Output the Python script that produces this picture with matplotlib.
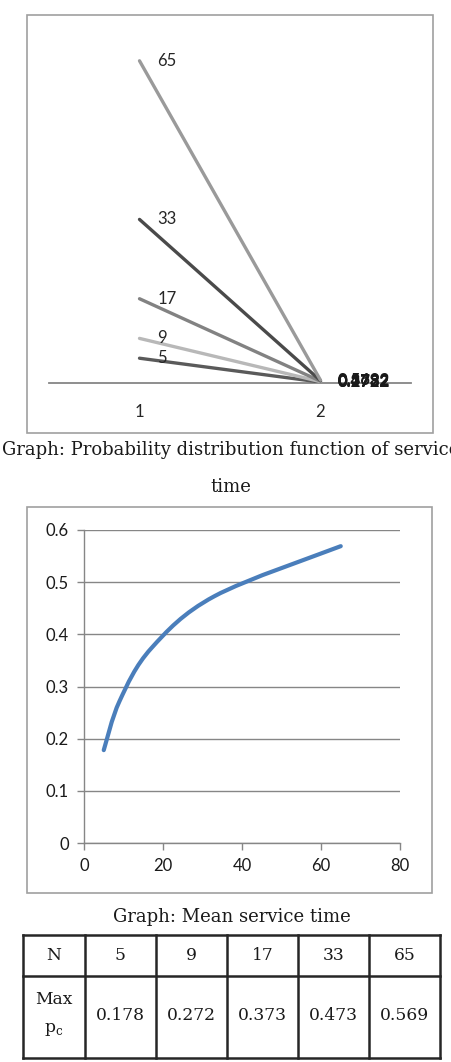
import matplotlib
matplotlib.use("Agg")
import matplotlib.pyplot as plt
from matplotlib.patches import Rectangle, PathPatch
from matplotlib.path import Path
import numpy as np

# ---------------- data ----------------
pdf_categories = ["1", "2"]
series_n = [5, 9, 17, 33, 65]
pdf_start = [5, 9, 17, 33, 65]
pdf_end = [0.1782, 0.2722, 0.3732, 0.4732, 0.5692]
pdf_colors = ["#5a5a5a", "#b8b8b8", "#828282", "#4a4a4a", "#9a9a9a"]

mean_x = [5, 9, 17, 33, 65]
mean_y = [0.178, 0.272, 0.373, 0.473, 0.569]
y_ticks = [0, 0.1, 0.2, 0.3, 0.4, 0.5, 0.6]
x_ticks = [0, 20, 40, 60, 80]

table_header = ["N", "5", "9", "17", "33", "65"]
table_values = ["0.178", "0.272", "0.373", "0.473", "0.569"]

caption1 = "Graph: Probability distribution function of service"
caption1b = "time"
caption2 = "Graph: Mean service time"

# ---------------- figure ----------------
W, H = 451, 1062
fig = plt.figure(figsize=(W / 100, H / 100), dpi=100)

def fx(x):
    return x / W

def fy(y):
    return 1 - y / H

def axes_px(x0, y0, x1, y1):
    return fig.add_axes([fx(x0), fy(y1), fx(x1) - fx(x0), fy(y0) - fy(y1)])

SANS = ["Lato", "DejaVu Sans"]
SERIF = ["DejaVu Serif"]
GRID = "#868686"
SANS_SIZE = 12
CAP_SIZE = 13.0

# chart frames
for (x0, y0, x1, y1) in [(27, 15, 433, 433), (27, 507, 432, 893)]:
    fig.patches.append(Rectangle((fx(x0), fy(y1)), fx(x1) - fx(x0), fy(y0) - fy(y1),
                                 transform=fig.transFigure, fill=False,
                                 edgecolor="#a0a0a0", linewidth=1.2))

# ---------------- top chart ----------------
ax1 = axes_px(49, 36, 411, 383)
ax1.set_xlim(0.5, 2.5)
ax1.set_ylim(0, 70)
xs = [1, 2]
ax1.axhline(0, color=GRID, linewidth=1.3, zorder=1, clip_on=False)
for n, s, e, c in zip(series_n, pdf_start, pdf_end, pdf_colors):
    ax1.plot(xs, [s, e], color=c, linewidth=2.4, solid_capstyle="round", zorder=3)
for n, s, e in zip(series_n, pdf_start, pdf_end):
    ax1.annotate(str(s), (1, s), xytext=(13, 0), textcoords="offset points",
                 ha="left", va="center", fontsize=SANS_SIZE, family=SANS, color="#262626", zorder=4)
    ax1.annotate(f"{e:g}", (2, e), xytext=(12, 0), textcoords="offset points",
                 ha="left", va="center", fontsize=SANS_SIZE, family=SANS, color="#1a1a1a",
                 fontweight="bold", zorder=4)
for sp in ax1.spines.values():
    sp.set_visible(False)
ax1.set_yticks([])
ax1.set_xticks(xs)
ax1.set_xticklabels(pdf_categories, family=SANS, fontsize=SANS_SIZE, color="#262626")
ax1.tick_params(axis="x", length=0, pad=15)
ax1.patch.set_alpha(0)

fig.text(fx(2), fy(450), caption1, ha="left", va="center", family=SERIF,
         fontsize=CAP_SIZE, color="#1a1a1a")
fig.text(fx(231), fy(487), caption1b, ha="center", va="center", family=SERIF,
         fontsize=CAP_SIZE, color="#1a1a1a")

# ---------------- second chart ----------------
ax2 = axes_px(84, 530, 400, 843)
ax2.set_xlim(0, 80)
ax2.set_ylim(0, 0.6)
ax2.set_yticks(y_ticks)
ax2.set_yticklabels([f"{v:g}" for v in y_ticks], family=SANS, fontsize=SANS_SIZE, color="#1a1a1a")
ax2.set_xticks(x_ticks)
ax2.set_xticklabels([str(v) for v in x_ticks], family=SANS, fontsize=SANS_SIZE, color="#1a1a1a")
ax2.grid(axis="y", color=GRID, linewidth=1.0)
ax2.set_axisbelow(True)
for side in ["top", "right"]:
    ax2.spines[side].set_visible(False)
for side in ["left", "bottom"]:
    ax2.spines[side].set_color(GRID)
    ax2.spines[side].set_linewidth(1.0)
ax2.tick_params(axis="both", direction="out", length=5, width=1, color=GRID, pad=6)

# smoothed (Excel-like) line through the data points
px = np.array(mean_x, dtype=float)
py = np.array(mean_y, dtype=float)
P = np.column_stack([px, py])
verts = [tuple(P[0])]
codes = [Path.MOVETO]
for i in range(len(P) - 1):
    p0 = P[i - 1] if i > 0 else P[i]
    p1 = P[i]
    p2 = P[i + 1]
    p3 = P[i + 2] if i + 2 < len(P) else P[i + 1]
    c1 = p1 + (p2 - p0) / 6.0
    c2 = p2 - (p3 - p1) / 6.0
    verts += [tuple(c1), tuple(c2), tuple(p2)]
    codes += [Path.CURVE4] * 3
ax2.add_patch(PathPatch(Path(verts, codes), facecolor="none", edgecolor="#4a7ebb",
                        linewidth=3.0, capstyle="round", joinstyle="round", zorder=3))

fig.text(fx(232), fy(917), caption2, ha="center", va="center", family=SERIF,
         fontsize=CAP_SIZE, color="#1a1a1a")

# ---------------- table ----------------
col_x = [23, 85, 156, 227, 298, 369, 440]
row_y = [935, 976, 1058]
tab = fig.add_axes([0, 0, 1, 1])
tab.set_xlim(0, W)
tab.set_ylim(H, 0)
tab.axis("off")
tab.patch.set_alpha(0)
for x in col_x:
    tab.plot([x, x], [row_y[0], row_y[-1]], color="#262626", linewidth=1.8,
             solid_capstyle="projecting")
for y in row_y:
    tab.plot([col_x[0], col_x[-1]], [y, y], color="#262626", linewidth=1.8,
             solid_capstyle="projecting")
for i, lab in enumerate(table_header):
    tab.text((col_x[i] + col_x[i + 1]) / 2, 955, lab, ha="center", va="center",
             family=SERIF, fontsize=12.3, color="#1a1a1a")
tab.text((col_x[0] + col_x[1]) / 2, 999, "Max", ha="center", va="center",
         family=SERIF, fontsize=12.3, color="#1a1a1a")
tab.text((col_x[0] + col_x[1]) / 2, 1030, r"p$_\mathregular{c}$", ha="center", va="center",
         family=SERIF, fontsize=12.3, color="#1a1a1a")
for i, lab in enumerate(table_values):
    tab.text((col_x[i + 1] + col_x[i + 2]) / 2, 1016, lab, ha="center", va="center",
             family=SERIF, fontsize=12.3, color="#1a1a1a")

fig.savefig("out.png", dpi=100)
